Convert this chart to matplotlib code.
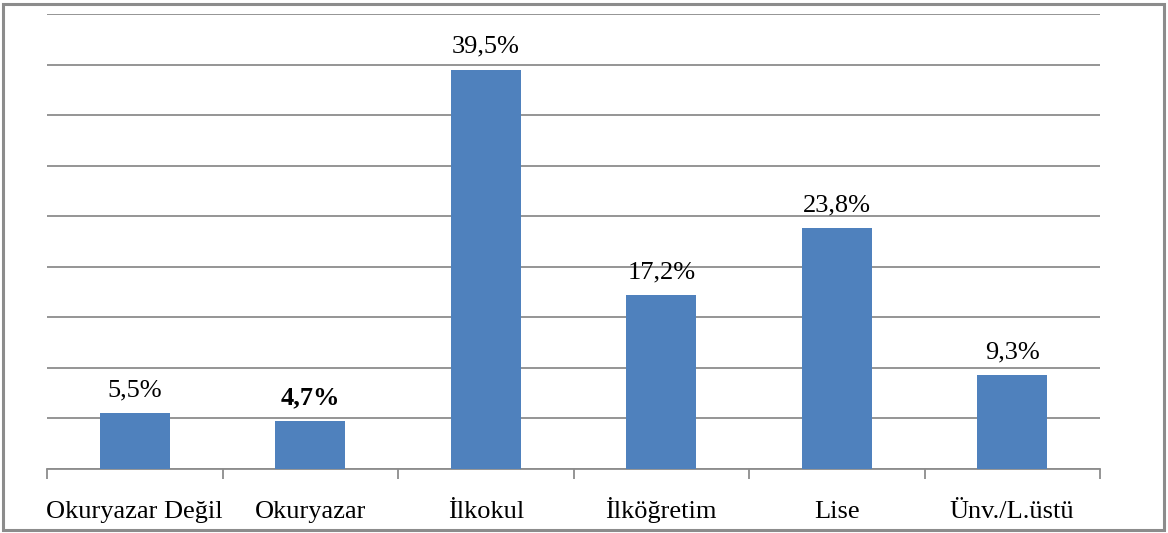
import matplotlib.pyplot as plt
from matplotlib.patches import Rectangle
import numpy as np

categories = ["Okuryazar Değil", "Okuryazar", "İlkokul", "İlköğretim", "Lise", "Ünv./L.üstü"]
values = [5.5, 4.7, 39.5, 17.2, 23.8, 9.3]
labels = ["5,5%", "4,7%", "39,5%", "17,2%", "23,8%", "9,3%"]
bold_label = [False, True, False, False, False, False]

plt.rcParams["font.family"] = ["Liberation Serif", "DejaVu Serif"]

W, H = 1168, 533
fig = plt.figure(figsize=(W / 100, H / 100), dpi=100)
ax = fig.add_axes([47 / W, 1 - 469 / H, (1100 - 47) / W, (469 - 14) / H])

x = np.arange(len(categories))
ax.bar(x, values, width=0.4, color="#4F81BD", zorder=3)
ax.set_xlim(-0.5, len(categories) - 0.5)
ax.set_ylim(0, 45)

ax.set_yticks(np.arange(0, 46, 5))
ax.yaxis.grid(True, color="#8c8c8c", lw=1.3)
ax.tick_params(axis="y", left=False, labelleft=False)

# category names, placed on a common baseline
ax.set_xticks([])
ax.set_xticks(np.arange(-0.5, len(categories)), minor=True)
ax.tick_params(axis="x", which="minor", length=7, width=1.3, color="#8c8c8c",
               labelbottom=False)
trans = ax.get_xaxis_transform()
for xi, name in zip(x, categories):
    ax.text(xi, -0.108, name, transform=trans, ha="center", va="baseline",
            fontsize=19)

for s in ["top", "right", "left"]:
    ax.spines[s].set_visible(False)
ax.spines["bottom"].set_color("#8c8c8c")
ax.spines["bottom"].set_linewidth(1.3)

for xi, v, lab, b in zip(x, values, labels, bold_label):
    ax.annotate(lab, (xi, v), xytext=(0, 12), textcoords="offset points",
                ha="center", va="baseline", fontsize=19,
                fontweight="bold" if b else "normal")

fig.patches.append(Rectangle((3 / W, 3 / H), 1 - 7 / W, 1 - 7 / H,
                             transform=fig.transFigure, fill=False,
                             edgecolor="#8c8c8c", lw=2.2))

fig.savefig("out.png", dpi=100)
